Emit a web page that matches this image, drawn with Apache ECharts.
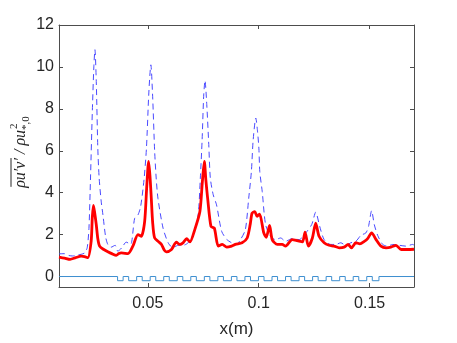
<!DOCTYPE html>
<html>
<head>
<meta charset="utf-8">
<script src="https://cdn.jsdelivr.net/npm/echarts@6/dist/echarts.min.js"></script>
<style>
  html, body { margin: 0; padding: 0; background: #fff; }
  #chart { width: 457px; height: 343px; }
</style>
</head>
<body>
<div id="chart"></div>
<script>
// blue dashed curve
var dashedX = [0.0100, 0.0124, 0.0145, 0.0162, 0.0180, 0.0200, 0.0215, 0.0227, 0.0235, 0.0242,
  0.0250, 0.0257, 0.0262, 0.0268, 0.0275, 0.0281, 0.0290, 0.0298, 0.0310, 0.0320,
  0.0335, 0.0353, 0.0365, 0.0383, 0.0403, 0.0423, 0.0441, 0.0456, 0.0468, 0.0483,
  0.0494, 0.0505, 0.0514, 0.0522, 0.0531, 0.0538, 0.0546, 0.0569, 0.0592, 0.0614,
  0.0637, 0.0660, 0.0682, 0.0705, 0.0727, 0.0737, 0.0745, 0.0752, 0.0758, 0.0766,
  0.0775, 0.0782, 0.0795, 0.0810, 0.0833, 0.0856, 0.0878, 0.0900, 0.0918, 0.0940,
  0.0955, 0.0967, 0.0975, 0.0987, 0.0995, 0.1001, 0.1005, 0.1016, 0.1031, 0.1053,
  0.1076, 0.1099, 0.1121, 0.1151, 0.1182, 0.1212, 0.1239, 0.1257, 0.1275, 0.1295,
  0.1325, 0.1348, 0.1370, 0.1393, 0.1415, 0.1438, 0.1461, 0.1483, 0.1495, 0.1509,
  0.1521, 0.1536, 0.1559, 0.1581, 0.1604, 0.1634, 0.1664, 0.1694, 0.1700];
var dashedY = [1.08, 1.09, 1.00, 0.98, 1.02, 1.06, 1.12, 1.37, 2.30, 4.70,
  7.80, 10.00, 10.82, 9.30, 6.09, 4.70, 3.60, 2.94, 1.90, 1.53,
  1.40, 1.49, 1.21, 1.37, 1.64, 1.53, 2.78, 2.94, 3.34, 4.60,
  6.10, 8.80, 10.10, 8.60, 6.00, 4.70, 3.73, 2.31, 1.61, 1.37,
  1.49, 1.49, 1.61, 2.00, 2.94, 4.70, 6.50, 8.60, 9.35, 8.20,
  6.30, 4.70, 3.90, 3.42, 2.16, 1.77, 1.61, 1.53, 1.76, 2.24,
  3.73, 5.00, 6.50, 7.56, 6.90, 6.09, 5.00, 4.05, 2.48, 1.92,
  1.76, 1.84, 1.68, 1.81, 1.76, 2.08, 2.48, 3.07, 2.39, 1.76,
  1.53, 1.53, 1.61, 1.48, 1.61, 1.68, 1.97, 2.08, 2.39, 3.14,
  2.48, 1.97, 1.53, 1.45, 1.53, 1.49, 1.45, 1.53, 1.50];

// red solid curve
var solidX = [0.0100, 0.0125, 0.0150, 0.0175, 0.0200, 0.0215, 0.0230, 0.0245, 0.0250, 0.0255,
  0.0260, 0.0268, 0.0275, 0.0283, 0.0300, 0.0320, 0.0340, 0.0358, 0.0370, 0.0381,
  0.0411, 0.0433, 0.0456, 0.0471, 0.0486, 0.0495, 0.0504, 0.0510, 0.0516, 0.0522,
  0.0531, 0.0550, 0.0562, 0.0575, 0.0584, 0.0607, 0.0629, 0.0644, 0.0660, 0.0675,
  0.0690, 0.0712, 0.0735, 0.0746, 0.0755, 0.0762, 0.0770, 0.0785, 0.0800, 0.0818,
  0.0836, 0.0856, 0.0878, 0.0895, 0.0925, 0.0948, 0.0962, 0.0970, 0.0982, 0.0993,
  0.1004, 0.1023, 0.1034, 0.1049, 0.1061, 0.1084, 0.1106, 0.1121, 0.1151, 0.1174,
  0.1197, 0.1209, 0.1224, 0.1242, 0.1257, 0.1272, 0.1295, 0.1317, 0.1340, 0.1363,
  0.1385, 0.1403, 0.1418, 0.1438, 0.1456, 0.1476, 0.1491, 0.1509, 0.1529, 0.1551,
  0.1574, 0.1596, 0.1619, 0.1642, 0.1672, 0.1700];
var solidY = [0.93, 0.88, 0.82, 0.90, 0.97, 0.95, 0.90, 1.69, 2.80, 3.39,
  3.10, 2.47, 1.80, 1.45, 1.30, 1.18, 1.08, 1.01, 1.10, 1.13,
  1.09, 1.45, 2.00, 1.92, 2.62, 4.20, 5.49, 4.80, 3.73, 2.60,
  1.84, 1.65, 1.53, 1.25, 1.18, 1.29, 1.64, 1.53, 1.62, 1.81,
  1.65, 2.24, 3.10, 4.50, 5.49, 4.60, 3.73, 2.39, 2.31, 1.45,
  1.53, 1.40, 1.45, 1.53, 1.61, 1.84, 2.50, 3.02, 3.10, 2.87,
  2.98, 2.08, 1.87, 2.44, 1.76, 1.53, 1.53, 1.45, 1.76, 1.71,
  1.65, 2.12, 1.45, 1.84, 2.55, 1.92, 1.61, 1.49, 1.45, 1.37,
  1.40, 1.53, 1.37, 1.61, 1.56, 1.68, 1.81, 2.08, 1.76, 1.45,
  1.37, 1.40, 1.49, 1.29, 1.29, 1.30];

// bed profile (square wave): drop, pulses [start, end], final rise
var bedHigh = 0;
var bedLow = -0.2;
var bedDrop = 0.0364;
var bedRise = 0.1542;
var bedPulses = [[0.0389, 0.0414], [0.0450, 0.0475], [0.0511, 0.0536], [0.0572, 0.0597],
  [0.0633, 0.0658], [0.0694, 0.0719], [0.0755, 0.0780], [0.0816, 0.0841],
  [0.0877, 0.0902], [0.0938, 0.0963], [0.0999, 0.1024], [0.1060, 0.1085],
  [0.1121, 0.1146], [0.1182, 0.1207], [0.1243, 0.1268], [0.1304, 0.1329],
  [0.1365, 0.1390], [0.1426, 0.1451], [0.1487, 0.1512]];

var xTicks = [0.05, 0.1, 0.15];
var yTicks = [0, 2, 4, 6, 8, 10, 12];

function zip(xs, ys) {
  var out = [];
  for (var i = 0; i < xs.length; i++) out.push([xs[i], ys[i]]);
  return out;
}

var bedData = [[0.01, bedHigh], [bedDrop, bedHigh], [bedDrop, bedLow]];
for (var i = 0; i < bedPulses.length; i++) {
  var p = bedPulses[i];
  bedData.push([p[0], bedLow], [p[0], bedHigh], [p[1], bedHigh], [p[1], bedLow]);
}
bedData.push([bedRise, bedLow], [bedRise, bedHigh], [0.17, bedHigh]);

var axisColor = '#4d4d4d';
var textColor = '#262626';
var font = 'Liberation Sans, Arial, sans-serif';

function boxAxis(pos, min, max, ticks, withLabels) {
  return {
    type: 'value',
    position: pos,
    min: min,
    max: max,
    axisLine: { show: true, onZero: false, lineStyle: { color: axisColor, width: 1 } },
    axisTick: { show: true, inside: true, length: 4, customValues: ticks, lineStyle: { color: axisColor } },
    axisLabel: {
      show: withLabels,
      customValues: ticks,
      color: textColor,
      fontSize: 16,
      fontFamily: font,
      margin: pos === 'bottom' ? 9 : 5,
      formatter: function (v) { return String(Math.round(v * 100) / 100); }
    },
    splitLine: { show: false }
  };
}

var xBottom = boxAxis('bottom', 0.01, 0.17, xTicks, true);
xBottom.name = 'x(m)';
xBottom.nameLocation = 'middle';
xBottom.nameGap = 34;
xBottom.nameTextStyle = { color: textColor, fontSize: 17, fontFamily: font };
var xTop = boxAxis('top', 0.01, 0.17, xTicks, false);
var yLeft = boxAxis('left', -0.5, 12, yTicks, true);
var yRight = boxAxis('right', -0.5, 12, yTicks, false);

// y axis label built from pieces (overline + scripts)
var mc = document.createElement('canvas').getContext('2d');
var mainFont = 'italic 16px "Liberation Serif", serif';
var smallFont = '11px "Liberation Serif", serif';
function tw(t, f) { mc.font = f; return mc.measureText(t).width; }
var p1 = '\u03c1u\u2032v\u2032', p2 = ' / \u03c1u';
var w1 = tw(p1, mainFont), w2 = tw(p2, mainFont), w3 = tw('*,0', smallFont);
var total = w1 + w2 + w3;
var x0 = -total / 2;
var yLabel = {
  type: 'group',
  x: 21,
  y: 152,
  rotation: Math.PI / 2,
  children: [
    { type: 'text', x: x0, y: 0, style: { text: p1, font: mainFont, fill: textColor, verticalAlign: 'middle', textVerticalAlign: 'middle' } },
    { type: 'line', shape: { x1: x0 + 1, y1: -10, x2: x0 + w1, y2: -10 }, style: { stroke: textColor, lineWidth: 1 } },
    { type: 'text', x: x0 + w1, y: 0, style: { text: p2, font: mainFont, fill: textColor, verticalAlign: 'middle', textVerticalAlign: 'middle' } },
    { type: 'text', x: x0 + w1 + w2 + 1, y: -7, style: { text: '2', font: smallFont, fill: textColor, verticalAlign: 'middle', textVerticalAlign: 'middle' } },
    { type: 'text', x: x0 + w1 + w2, y: 5, style: { text: '*,0', font: smallFont, fill: textColor, verticalAlign: 'middle', textVerticalAlign: 'middle' } }
  ]
};

var chart = echarts.init(document.getElementById('chart'), null, { renderer: 'canvas' });
chart.setOption({
  animation: false,
  backgroundColor: '#fff',
  grid: { left: 59, top: 25, right: 43, bottom: 54 },
  xAxis: [xBottom, xTop],
  yAxis: [yLeft, yRight],
  graphic: [yLabel],
  series: [
    {
      type: 'line',
      data: bedData,
      showSymbol: false,
      lineStyle: { color: '#3d8fd0', width: 1 }
    },
    {
      type: 'line',
      data: zip(dashedX, dashedY),
      showSymbol: false,
      smooth: 0.25,
      lineStyle: { color: '#4a4aff', width: 1, type: [6, 4] }
    },
    {
      type: 'line',
      data: zip(solidX, solidY),
      showSymbol: false,
      smooth: 0.25,
      lineStyle: { color: '#ff0000', width: 2.8 }
    }
  ]
});
</script>
</body>
</html>
